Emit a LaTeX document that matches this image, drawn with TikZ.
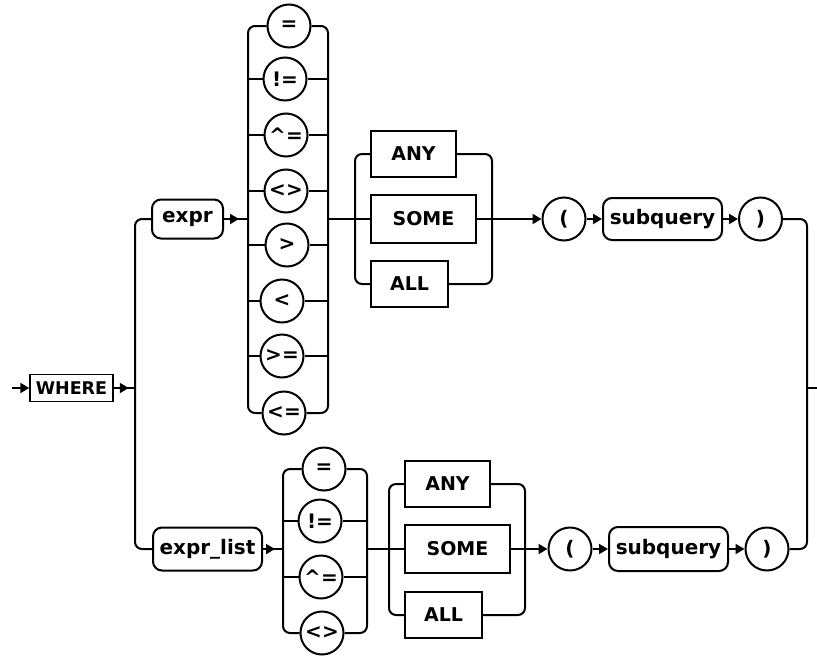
\documentclass[tikz,border=0pt]{standalone}
\usepackage{fontspec}
\setmainfont{DejaVu Sans}
\usetikzlibrary{arrows.meta,decorations.markings}
\begin{document}
\begin{tikzpicture}[x=1pt,y=-1pt, line width=2pt,
 lbl/.style={font=\fontsize{20}{24}\selectfont\bfseries, inner sep=0pt, draw},
 kw/.style={lbl, font=\fontsize{19}{22}\selectfont\bfseries, rectangle, minimum height=46pt},
 nt/.style={lbl, rounded corners=9pt, minimum height=41pt},
 op/.style={lbl, circle, minimum size=43pt},
 arr/.style={-{Triangle[length=9pt,width=10pt]}},
 ah/.style={postaction={decorate,decoration={markings,mark=at position #1 with {\arrow{Triangle[length=9pt,width=10pt]}}}}},
 rc/.style={rounded corners=7pt}]
\useasboundingbox (0,0) rectangle (817,656);

% start
\coordinate (start) at (12,388);
\node[lbl, font=\fontsize{17.5}{20}\selectfont\bfseries, rectangle, minimum width=83pt, minimum height=27pt, line width=1.5pt] (where) at (71.5,388) {WHERE};
\draw[arr] (start) -- (where.west);
\coordinate (L) at (135,388);
\draw[ah=15pt] (where.east) -- (L);

\node[nt, minimum width=71pt, minimum height=39pt] (expr) at (187.5,219) {expr};
\node[nt, minimum width=109pt, minimum height=43pt] (exprlist) at (207.5,549) {expr\_list};
\draw[rc] (expr.west) -| (L) |- (exprlist.west);

% top operator column
\node[op] (a1) at (289,26) {=};
\node[op] (a2) at (285,79) {!=};
\node[op] (a3) at (286,135) {\textasciicircum=};
\node[op] (a4) at (286,191) {<>};
\node[op] (a5) at (287,245) {>};
\node[op] (a6) at (282,301) {<};
\node[op] (a7) at (282,356) {>=};
\node[op] (a8) at (284,413) {<=};
\coordinate (aLt) at (248,26); \coordinate (aLb) at (248,413);
\coordinate (aRt) at (328,26); \coordinate (aRb) at (328,413);
\draw[rc] (a1.west) -- (aLt) -- (aLb) -- (a8.west);
\draw[rc] (a1.east) -- (aRt) -- (aRb) -- (a8.east);
\foreach \n in {a2,a3,a4,a5,a6,a7}{
  \draw (aLt |- \n) -- (\n.west);
  \draw (\n.east) -- (aRt |- \n);
}
\draw[ah=15pt] (expr.east) -- (aLt |- expr);

% top keyword group
\node[kw, minimum width=85pt] (any1) at (413.5,154) {ANY};
\node[kw, minimum width=105pt, minimum height=48pt] (some1) at (423.5,219) {SOME};
\node[kw, minimum width=77pt] (all1) at (409.5,284) {ALL};
\coordinate (g1L) at (355,219); \coordinate (g1R) at (492,219);
\draw (aRt |- expr) -- (g1L) -- (some1.west);
\draw[rc] (any1.west) -| (g1L) |- (all1.west);
\draw[rc] (any1.east) -| (g1R) |- (all1.east);
\draw (some1.east) -- (g1R);

\node[op] (lp1) at (564,219) {(};
\node[nt, minimum width=119pt, minimum height=42pt] (sq1) at (662.5,219) {subquery};
\node[op] (rp1) at (760.5,219) {)};
\draw[arr] (g1R) -- (lp1.west);
\draw[arr] (lp1.east) -- (sq1.west);
\draw[arr] (sq1.east) -- (rp1.west);

% bottom operator column
\node[op] (b1) at (324,469) {=};
\node[op] (b2) at (320,521) {!=};
\node[op] (b3) at (321,577) {\textasciicircum=};
\node[op] (b4) at (322,633) {<>};
\coordinate (bLt) at (283,469); \coordinate (bLb) at (283,633);
\coordinate (bRt) at (367,469); \coordinate (bRb) at (367,633);
\draw[rc] (b1.west) -- (bLt) -- (bLb) -- (b4.west);
\draw[rc] (b1.east) -- (bRt) -- (bRb) -- (b4.east);
\foreach \n in {b2,b3}{
  \draw (bLt |- \n) -- (\n.west);
  \draw (\n.east) -- (bRt |- \n);
}
\draw[ah=12pt] (exprlist.east) -- (bLt |- exprlist);

% bottom keyword group
\node[kw, minimum width=85pt] (any2) at (447.5,484) {ANY};
\node[kw, minimum width=105pt, minimum height=48pt] (some2) at (457.5,549) {SOME};
\node[kw, minimum width=77pt] (all2) at (443.5,615) {ALL};
\coordinate (g2L) at (389,549); \coordinate (g2R) at (525,549);
\draw (bRt |- exprlist) -- (g2L) -- (some2.west);
\draw[rc] (any2.west) -| (g2L) |- (all2.west);
\draw[rc] (any2.east) -| (g2R) |- (all2.east);
\draw (some2.east) -- (g2R);

\node[op] (lp2) at (570,549) {(};
\node[nt, minimum width=119pt, minimum height=44pt] (sq2) at (668.5,549) {subquery};
\node[op] (rp2) at (767,549) {)};
\draw[arr] (g2R) -- (lp2.west);
\draw[arr] (lp2.east) -- (sq2.west);
\draw[arr] (sq2.east) -- (rp2.west);

% exit
\coordinate (X) at (807,388);
\coordinate (endp) at (817,388);
\draw[rc] (rp1.east) -| (X) |- (rp2.east);
\draw (X) -- (endp);
\end{tikzpicture}
\end{document}
